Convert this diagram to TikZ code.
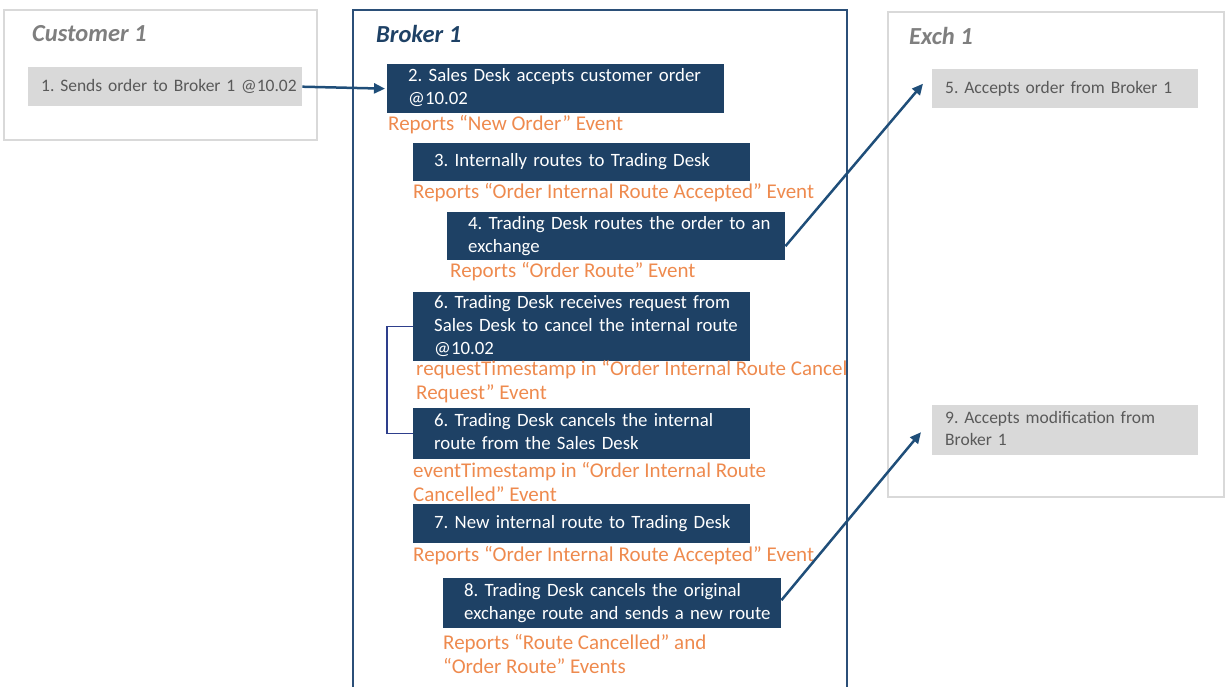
\documentclass[tikz,border=0pt]{standalone}
\usepackage{fontspec}
\setmainfont{Carlito}
\usetikzlibrary{arrows.meta}
\definecolor{navy}{HTML}{1E4165}
\definecolor{brokerline}{HTML}{2B4F78}
\definecolor{arrowc}{HTML}{1F4E79}
\definecolor{bracketc}{HTML}{2E3F8C}
\definecolor{lgray}{HTML}{D9D9D9}
\definecolor{dgray}{HTML}{595959}
\definecolor{tgray}{HTML}{7F7F7F}
\definecolor{orng}{HTML}{EE8A4E}
\newcommand{\bx}[1]{\hspace*{21pt}\begin{tabular}{@{}l@{}}#1\end{tabular}}
\newcommand{\gx}[1]{\hspace*{13pt}\begin{tabular}{@{}l@{}}#1\end{tabular}}
\tikzset{
  navybox/.style={fill=navy, text=white, anchor=north west, inner xsep=0pt, inner ysep=0pt,
    text width=#1, align=left, font=\fontsize{18.8}{23}\selectfont\frenchspacing},
  graybox/.style={fill=lgray, text=dgray, anchor=north west, inner xsep=0pt, inner ysep=0pt,
    text width=#1, align=left, font=\fontsize{17.5}{21.5}\selectfont\frenchspacing},
  ev/.style={text=orng, anchor=west, inner sep=0pt, align=left, font=\fontsize{21}{24.5}\selectfont\frenchspacing},
  ttl/.style={anchor=west, inner sep=0pt, font=\fontsize{24.5}{28}\selectfont\bfseries\itshape},
  frame/.style={draw=lgray, line width=2pt},
  arr/.style={draw=arrowc, line width=2.5pt, -{Triangle[length=11pt,width=10pt]}},
}
\begin{document}
\begin{tikzpicture}[x=1pt,y=-1pt]
\useasboundingbox (0,0) rectangle (1225,686);
% containers
\draw[frame] (4,10) rectangle (317,140);
\draw[draw=brokerline, line width=2pt] (353,700) -- (353,10) -- (847,10) -- (847,700);
\draw[frame] (888,12) rectangle (1224,497);
\node[ttl, text=tgray] (tc) at (32,34) {Customer 1};
\node[ttl, text=navy] (tb) at (376,34) {Broker 1};
\node[ttl, text=tgray] (te) at (909,36) {Exch 1};
% customer
\node[graybox=274pt, minimum height=39pt] (n1) at (28,67) {\gx{1. Sends order to Broker 1 @10.02}};
% broker
\node[navybox=337pt, minimum height=49pt] (n2) at (387,64) {\bx{2. Sales Desk accepts customer order\\@10.02}};
\node[ev] (e2) at (388,125) {Reports “New Order” Event};
\node[navybox=337pt, minimum height=38pt] (n3) at (413,143) {\bx{3. Internally routes to Trading Desk}};
\node[ev] (e3) at (413,193) {Reports “Order Internal Route Accepted” Event};
\node[navybox=338pt, minimum height=48pt] (n4) at (447,212) {\bx{4. Trading Desk routes the order to an\\exchange}};
\node[ev] (e4) at (450,272) {Reports “Order Route” Event};
\node[navybox=337pt, minimum height=67pt] (n6a) at (413,292) {\bx{6. Trading Desk receives request from\\Sales Desk to cancel the internal route\\@10.02}};
\node[ev] (e6a) at (416,381.5) {requestTimestamp in “Order Internal Route Cancel\\Request” Event};
\node[navybox=337pt, minimum height=51pt] (n6b) at (413,408) {\bx{6. Trading Desk cancels the internal\\route from the Sales Desk}};
\node[ev] (e6b) at (413,482) {eventTimestamp in “Order Internal Route\\Cancelled” Event};
\node[navybox=337pt, minimum height=39pt] (n7) at (413,504) {\bx{7. New internal route to Trading Desk}};
\node[ev] (e7) at (413,556) {Reports “Order Internal Route Accepted” Event};
\node[navybox=338pt, minimum height=50pt] (n8) at (443,578) {\bx{8. Trading Desk cancels the original\\exchange route and sends a new route}};
\node[ev] (e8) at (443,654) {Reports “Route Cancelled” and\\“Order Route” Events};
% exchange
\node[graybox=266pt, minimum height=39pt] (n5) at (932,69) {\gx{5. Accepts order from Broker 1}};
\node[graybox=266pt, minimum height=50pt] (n9) at (932,405) {\gx{9. Accepts modification from\\Broker 1}};
% connectors
\coordinate (t5) at ([xshift=-9pt,yshift=5pt]n5.west);
\coordinate (t9) at ([xshift=-11pt,yshift=-2pt]n9.west);
\draw[arr, shorten >=2pt] (n1.east) -- (n2.west);
\draw[arr] ([yshift=-10pt]n4.east) -- (t5);
\draw[arr] ([yshift=3pt]n8.east) -- (t9);
\draw[draw=bracketc, line width=1.5pt] (n6a.west) -- ++(-26,0) |- (n6b.west);
\end{tikzpicture}
\end{document}
